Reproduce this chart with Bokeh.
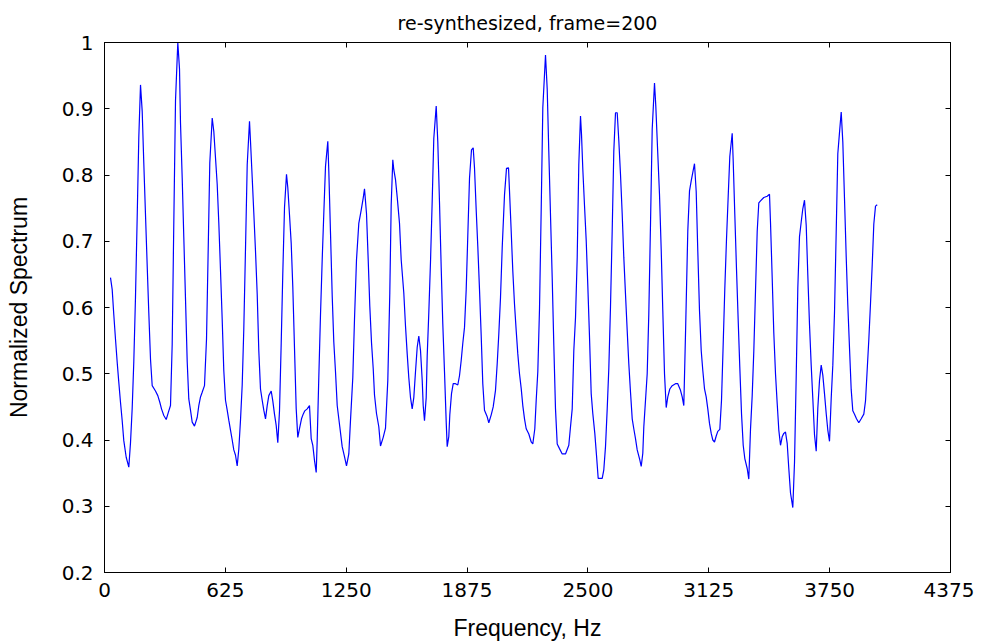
from bokeh.plotting import figure
from bokeh.models import LinearAxis, FixedTicker, CustomJSTickFormatter, Range1d
from bokeh.embed import file_html
from bokeh.resources import INLINE

title_text = "re-synthesized, frame=200"
x_label = "Frequency, Hz"
y_label = "Normalized Spectrum"
x_ticks = [0, 625, 1250, 1875, 2500, 3125, 3750, 4375]
y_ticks = [0.2, 0.3, 0.4, 0.5, 0.6, 0.7, 0.8, 0.9, 1.0]

freq_hz = [
    31.0, 39.8, 48.1, 56.9, 65.7, 74.0, 82.7, 91.5, 99.8, 112.2,
    125.7, 134.5, 143.2, 151.5, 160.3, 169.1, 177.4, 186.2, 195.0, 203.2,
    212.0, 220.8, 229.1, 237.9, 246.7, 263.7, 275.6, 286.0, 294.8, 306.7,
    319.1, 329.4, 341.3, 350.1, 358.4, 367.2, 379.1, 387.9, 393.0, 401.8,
    410.1, 418.9, 427.7, 435.9, 444.7, 453.5, 465.4, 479.4, 487.7, 496.5,
    505.2, 517.1, 527.5, 536.3, 544.5, 557.0, 565.2, 574.0, 582.8, 591.1,
    599.9, 608.7, 616.9, 625.7, 634.5, 642.8, 651.6, 660.4, 668.7, 677.5,
    686.2, 694.5, 703.3, 712.1, 720.4, 729.2, 738.0, 749.9, 755.0, 763.8,
    772.1, 780.9, 789.7, 797.9, 806.7, 815.5, 823.8, 832.6, 841.4, 849.7,
    862.1, 870.3, 879.1, 887.9, 896.2, 905.0, 913.8, 922.0, 930.9, 941.2,
    947.9, 956.7, 965.5, 973.8, 982.6, 991.4, 999.6, 1008.4, 1018.8, 1027.5,
    1035.8, 1048.2, 1060.1, 1068.9, 1077.2, 1086.0, 1094.8, 1099.9, 1108.2, 1117.0,
    1125.8, 1134.1, 1142.9, 1154.8, 1160.0, 1168.7, 1177.5, 1185.8, 1194.6, 1203.4,
    1216.8, 1229.2, 1241.1, 1251.5, 1263.4, 1272.2, 1284.0, 1292.8, 1303.2, 1315.1,
    1327.5, 1337.8, 1344.6, 1354.9, 1363.7, 1372.0, 1380.8, 1389.6, 1396.3, 1406.6,
    1418.5, 1427.3, 1441.3, 1453.2, 1465.1, 1475.4, 1482.6, 1490.9, 1496.1, 1504.9,
    1513.6, 1525.6, 1534.3, 1547.8, 1556.6, 1565.4, 1573.7, 1582.5, 1591.2, 1599.5,
    1608.3, 1617.1, 1625.4, 1634.2, 1643.0, 1648.1, 1654.8, 1663.6, 1668.8, 1677.1,
    1685.9, 1694.6, 1702.9, 1715.4, 1723.6, 1732.4, 1741.2, 1749.5, 1758.3, 1767.1,
    1772.2, 1780.5, 1785.7, 1794.5, 1803.3, 1815.2, 1827.0, 1835.8, 1844.6, 1852.9,
    1861.7, 1870.5, 1878.8, 1887.6, 1897.9, 1906.7, 1913.4, 1922.2, 1930.5, 1939.3,
    1948.1, 1956.3, 1965.1, 1979.1, 1987.4, 1999.8, 2010.1, 2022.0, 2030.8, 2039.1,
    2047.9, 2056.7, 2068.6, 2078.9, 2089.3, 2094.4, 2103.2, 2111.5, 2120.3, 2129.1,
    2137.4, 2146.1, 2154.9, 2163.2, 2172.0, 2180.8, 2194.3, 2206.7, 2214.9, 2225.3,
    2232.5, 2240.8, 2249.6, 2258.4, 2266.7, 2280.6, 2289.4, 2297.7, 2306.5, 2315.3,
    2323.6, 2332.3, 2341.1, 2353.0, 2367.0, 2384.0, 2401.1, 2409.9, 2418.7, 2427.0,
    2435.8, 2444.6, 2452.8, 2461.6, 2466.8, 2473.5, 2482.3, 2491.1, 2499.4, 2508.2,
    2516.9, 2525.2, 2535.6, 2544.3, 2553.1, 2573.8, 2582.1, 2590.9, 2599.7, 2608.0,
    2616.7, 2625.5, 2633.8, 2642.6, 2651.4, 2659.7, 2668.4, 2677.2, 2685.5, 2694.3,
    2703.1, 2711.4, 2720.2, 2729.0, 2737.2, 2746.0, 2754.8, 2768.3, 2775.5, 2783.8,
    2789.0, 2797.8, 2806.5, 2814.8, 2823.6, 2832.4, 2844.3, 2851.0, 2859.8, 2870.1,
    2878.9, 2887.2, 2896.0, 2904.8, 2913.0, 2923.4, 2935.8, 2952.8, 2964.7, 2978.7,
    2987.5, 2995.8, 3004.6, 3016.5, 3025.3, 3034.1, 3042.4, 3051.1, 3059.9, 3068.2,
    3077.0, 3085.8, 3094.1, 3102.9, 3111.6, 3119.9, 3128.7, 3137.5, 3145.8, 3154.6,
    3163.4, 3171.6, 3182.0, 3190.8, 3199.5, 3207.8, 3216.6, 3225.4, 3233.7, 3246.1,
    3251.3, 3259.5, 3268.3, 3277.1, 3285.4, 3294.2, 3303.0, 3311.3, 3323.7, 3331.9,
    3340.7, 3349.5, 3357.8, 3366.6, 3375.4, 3383.7, 3392.5, 3409.5, 3427.1, 3439.0,
    3444.2, 3452.9, 3461.2, 3470.0, 3478.8, 3487.1, 3495.9, 3504.7, 3512.9, 3521.7,
    3530.5, 3538.8, 3547.6, 3559.5, 3568.3, 3577.1, 3585.4, 3594.1, 3602.9, 3611.2,
    3620.0, 3628.8, 3637.1, 3645.9, 3654.6, 3662.9, 3671.7, 3680.5, 3688.8, 3697.6,
    3706.4, 3714.7, 3723.4, 3732.2, 3740.5, 3749.3, 3758.1, 3766.4, 3775.2, 3783.9,
    3792.2, 3802.6, 3809.8, 3818.1, 3826.8, 3835.6, 3843.9, 3852.7, 3861.5, 3869.8,
    3878.6, 3888.9, 3900.8, 3913.2, 3926.7, 3935.5, 3944.2, 3952.5, 3961.3, 3970.1,
    3978.4, 3987.2, 3996.0,
]

spectrum = [
    0.645, 0.627, 0.589, 0.552, 0.517, 0.487, 0.457, 0.429, 0.399, 0.374,
    0.359, 0.396, 0.448, 0.518, 0.616, 0.737, 0.857, 0.936, 0.896, 0.818,
    0.740, 0.663, 0.592, 0.522, 0.482, 0.474, 0.467, 0.457, 0.447, 0.437,
    0.431, 0.441, 0.452, 0.545, 0.728, 0.912, 1.000, 0.960, 0.879, 0.796,
    0.706, 0.613, 0.518, 0.462, 0.445, 0.427, 0.421, 0.434, 0.452, 0.465,
    0.472, 0.482, 0.552, 0.688, 0.818, 0.886, 0.866, 0.826, 0.786, 0.728,
    0.656, 0.581, 0.505, 0.460, 0.445, 0.430, 0.415, 0.400, 0.385, 0.377,
    0.361, 0.386, 0.430, 0.483, 0.568, 0.689, 0.815, 0.881, 0.851, 0.796,
    0.743, 0.685, 0.620, 0.535, 0.477, 0.460, 0.445, 0.432, 0.452, 0.467,
    0.474, 0.459, 0.439, 0.422, 0.396, 0.444, 0.546, 0.651, 0.751, 0.801,
    0.781, 0.740, 0.697, 0.631, 0.538, 0.447, 0.404, 0.417, 0.432, 0.439,
    0.444, 0.447, 0.452, 0.402, 0.392, 0.369, 0.351, 0.399, 0.494, 0.589,
    0.672, 0.742, 0.813, 0.851, 0.806, 0.713, 0.618, 0.548, 0.503, 0.452,
    0.420, 0.390, 0.375, 0.361, 0.379, 0.430, 0.494, 0.582, 0.672, 0.727,
    0.747, 0.765, 0.779, 0.742, 0.672, 0.602, 0.547, 0.508, 0.468, 0.440,
    0.420, 0.391, 0.404, 0.418, 0.490, 0.622, 0.755, 0.823, 0.808, 0.793,
    0.767, 0.727, 0.672, 0.622, 0.572, 0.530, 0.494, 0.464, 0.447, 0.464,
    0.503, 0.540, 0.557, 0.535, 0.490, 0.452, 0.429, 0.464, 0.527, 0.592,
    0.669, 0.760, 0.855, 0.904, 0.850, 0.759, 0.660, 0.575, 0.503, 0.427,
    0.390, 0.405, 0.438, 0.470, 0.485, 0.485, 0.483, 0.497, 0.520, 0.546,
    0.570, 0.627, 0.709, 0.795, 0.838, 0.841, 0.811, 0.747, 0.692, 0.627,
    0.557, 0.485, 0.445, 0.435, 0.426, 0.438, 0.450, 0.475, 0.515, 0.560,
    0.615, 0.690, 0.770, 0.810, 0.811, 0.776, 0.715, 0.655, 0.605, 0.565,
    0.530, 0.500, 0.478, 0.452, 0.432, 0.417, 0.409, 0.397, 0.394, 0.417,
    0.460, 0.503, 0.598, 0.749, 0.902, 0.981, 0.930, 0.835, 0.739, 0.644,
    0.543, 0.447, 0.394, 0.387, 0.379, 0.379, 0.392, 0.420, 0.447, 0.535,
    0.585, 0.676, 0.816, 0.889, 0.861, 0.809, 0.754, 0.701, 0.633, 0.555,
    0.470, 0.440, 0.410, 0.377, 0.342, 0.342, 0.355, 0.390, 0.447, 0.508,
    0.601, 0.716, 0.836, 0.894, 0.894, 0.852, 0.801, 0.741, 0.676, 0.620,
    0.565, 0.515, 0.472, 0.432, 0.417, 0.402, 0.385, 0.370, 0.360, 0.380,
    0.420, 0.460, 0.500, 0.590, 0.726, 0.869, 0.939, 0.904, 0.842, 0.771,
    0.688, 0.595, 0.500, 0.449, 0.465, 0.477, 0.482, 0.485, 0.485, 0.475,
    0.465, 0.452, 0.560, 0.716, 0.776, 0.791, 0.804, 0.817, 0.775, 0.685,
    0.595, 0.535, 0.505, 0.477, 0.465, 0.447, 0.425, 0.410, 0.400, 0.397,
    0.406, 0.413, 0.416, 0.460, 0.545, 0.628, 0.703, 0.768, 0.828, 0.863,
    0.821, 0.741, 0.658, 0.580, 0.510, 0.440, 0.392, 0.372, 0.357, 0.341,
    0.416, 0.467, 0.534, 0.625, 0.715, 0.758, 0.761, 0.766, 0.768, 0.771,
    0.728, 0.645, 0.562, 0.500, 0.455, 0.415, 0.392, 0.405, 0.410, 0.412,
    0.395, 0.357, 0.320, 0.298, 0.366, 0.496, 0.629, 0.707, 0.729, 0.749,
    0.762, 0.724, 0.649, 0.574, 0.513, 0.463, 0.408, 0.383, 0.448, 0.490,
    0.513, 0.498, 0.470, 0.440, 0.415, 0.398, 0.463, 0.513, 0.593, 0.714,
    0.832, 0.870, 0.895, 0.850, 0.765, 0.677, 0.604, 0.539, 0.476, 0.444,
    0.439, 0.432, 0.426, 0.432, 0.439, 0.459, 0.506, 0.551, 0.606, 0.664,
    0.726, 0.753, 0.755,
]

TICK_FONT = "DejaVu Sans"
LABEL_FONT = "Liberation Sans"

p = figure(
    width=974, height=643,
    output_backend="svg", toolbar_location=None,
    x_range=Range1d(0, 4375), y_range=Range1d(0.2, 1.0),
    min_border_left=104, min_border_right=24,
    min_border_top=41, min_border_bottom=71,
    background_fill_color="white", border_fill_color="white",
)
p.grid.visible = False
p.outline_line_color = "black"
p.outline_line_width = 1

p.line(freq_hz, spectrum, line_color="#0000ff", line_width=1.2)

yfmt = CustomJSTickFormatter(code="return (Math.round(tick*10)/10).toString();")

def style_axis(ax, ticks, labels=True):
    ax.ticker = FixedTicker(ticks=ticks)
    ax.axis_line_color = "black"
    ax.axis_line_width = 1
    ax.major_tick_line_color = "black"
    ax.major_tick_in = 5
    ax.major_tick_out = 0
    ax.minor_tick_line_color = None
    ax.major_label_text_font = TICK_FONT
    if labels:
        ax.major_label_text_font_size = "20px"
        ax.major_label_text_color = "black"
    else:
        ax.major_label_text_font_size = "1px"
        ax.major_label_text_color = None
        ax.major_label_standoff = 0

xa = p.xaxis[0]
ya = p.yaxis[0]
style_axis(xa, x_ticks)
style_axis(ya, y_ticks)
ya.formatter = yfmt
xa.major_label_standoff = 10
ya.major_label_standoff = 11

xa.axis_label = x_label
ya.axis_label = y_label
for ax in (xa, ya):
    ax.axis_label_text_font = LABEL_FONT
    ax.axis_label_text_font_size = "23px"
    ax.axis_label_text_font_style = "normal"
    ax.axis_label_text_color = "black"
xa.axis_label_standoff = 15
ya.axis_label_standoff = 27

top = LinearAxis()
style_axis(top, x_ticks, labels=False)
p.add_layout(top, "above")
right = LinearAxis()
style_axis(right, y_ticks, labels=False)
p.add_layout(right, "right")

p.title.text = title_text
p.title.align = "center"
p.title.text_font = TICK_FONT
p.title.text_font_size = "19px"
p.title.text_font_style = "normal"
p.title.text_color = "black"
p.title.standoff = 18

open("out.html", "w").write(file_html(p, INLINE))
